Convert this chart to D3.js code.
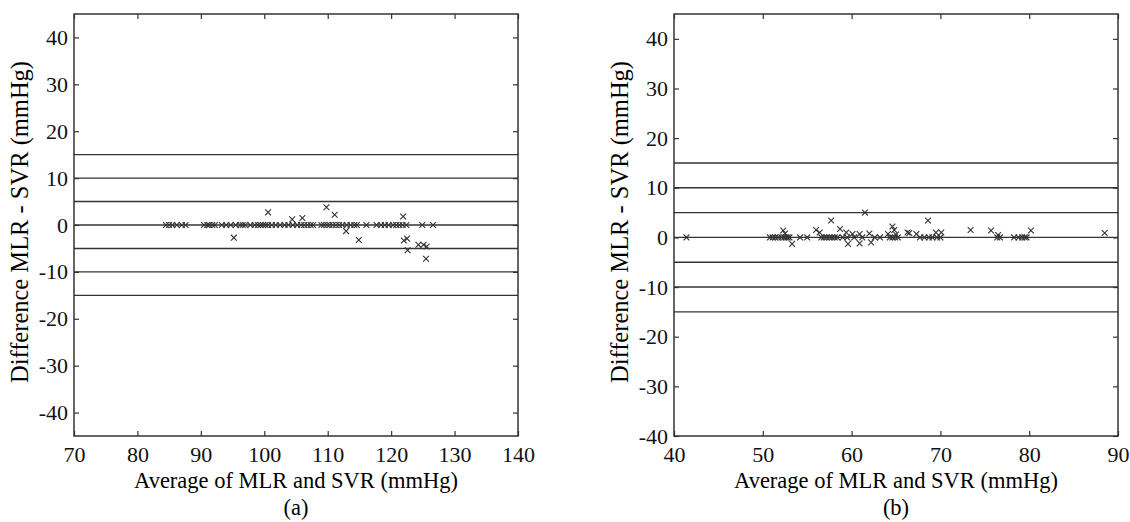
<!DOCTYPE html>
<html>
<head>
<meta charset="utf-8">
<script src="https://cdn.jsdelivr.net/npm/d3@7"></script>
<style>
  body { margin: 0; background: #fff; }
</style>
</head>
<body>
<div id="chart"></div>
<script>
// panel (a): points on the zero line, then points off it
var aZeroX = [84.5, 85, 85.5, 86.2, 87, 87.6, 90.5, 91, 91.3, 91.8, 92.2, 93.3, 94, 94.7, 95.5, 96.2, 96.6, 97,
  97.8, 98.5, 99, 99.4, 99.8, 100.2, 100.6, 101.2, 101.8, 102.5, 103.2, 103.8, 104.5, 105.2, 105.8, 106.3,
  106.8, 107.3, 107.7, 109, 109.4, 109.9, 110.3, 110.8, 111.3, 111.8, 112.3, 113, 113.6, 114.2, 114.6, 116.1,
  117.7, 118.4, 119, 119.6, 120.3, 120.8, 121.3, 121.8, 122.4, 124.9, 126.6]
var aOffX = [95.2, 100.6, 104.4, 106, 109.8, 111.1, 112.9, 114.9, 121.9, 122.5, 122, 122.6, 124.3, 125.1, 125.6, 125.5]
var aOffY = [-2.7, 2.7, 1.2, 1.5, 3.8, 2.2, -1.3, -3.2, 1.8, -2.9, -3.3, -5.4, -4.2, -4.2, -4.6, -7.2]

// panel (b)
var bZeroX = [41.4, 50.8, 51.1, 51.4, 51.7, 52.1, 52.4, 52.6, 52.8, 53.0, 54.2, 55.0, 56.6, 56.9, 57.2, 57.5,
  57.8, 58.1, 58.4, 59.0, 59.5, 60.3, 61.2, 62.6, 63.2, 64.3, 64.6, 64.9, 65.2, 67.7, 68.2, 68.7, 69.1, 69.6,
  70.0, 76.4, 76.7, 78.3, 78.8, 79.2, 79.5, 79.7]
var bOffX = [52.3, 52.5, 53.3, 56.0, 56.4, 57.7, 58.7, 59.4, 59.6, 60.1, 60.9, 60.9, 61.5, 62.0, 62.2, 64.1,
  64.6, 64.8, 65.0, 66.3, 66.5, 67.3, 68.6, 69.5, 70.1, 73.4, 75.7, 76.5, 80.2, 88.5]
var bOffY = [1.4, 0.8, -1.3, 1.5, 1.0, 3.4, 1.7, 1.0, -1.3, 0.7, 0.7, -1.2, 5.0, 0.8, -1.0, 0.7,
  2.2, 1.5, 0.6, 1.0, 0.9, 0.7, 3.4, 1.0, 1.0, 1.5, 1.4, 0.5, 1.4, 0.9]

var refLines = [15, 10, 5, 0, -5, -10, -15]
var aXTicks = [70, 80, 90, 100, 110, 120, 130, 140]
var aYTicks = [-40, -30, -20, -10, 0, 10, 20, 30, 40]
var bXTicks = [40, 50, 60, 70, 80, 90]
var bYTicks = [-40, -30, -20, -10, 0, 10, 20, 30, 40]

var xLabel = "Average of MLR and SVR (mmHg)"
var yLabel = "Difference MLR - SVR (mmHg)"

var FONT = "Liberation Serif"

var svg = d3.select("#chart").append("svg")
  .attr("width", 1130)
  .attr("height", 522)

function toPoints(xs, ys) {
  return xs.map(function(x, i) { return { x: x, y: ys ? ys[i] : 0 } })
}

function drawPanel(opt) {
  var x = d3.scaleLinear().domain(opt.xDomain).range([opt.left, opt.right])
  var y = d3.scaleLinear().domain(opt.yDomain).range([opt.bottom, opt.top])
  var g = svg.append("g")

  g.selectAll(".ref")
    .data(refLines)
    .enter().append("line")
    .attr("x1", opt.left).attr("x2", opt.right)
    .attr("y1", function(d) { return y(d) }).attr("y2", function(d) { return y(d) })
    .attr("stroke", "#333").attr("stroke-width", 1.4)

  var pts = toPoints(opt.zeroX).concat(toPoints(opt.offX, opt.offY))
  var s = 2.9
  g.selectAll(".pt")
    .data(pts)
    .enter().append("path")
    .attr("d", function(d) {
      var cx = x(d.x), cy = y(d.y)
      return "M" + (cx - s) + "," + (cy - s) + "L" + (cx + s) + "," + (cy + s) +
        "M" + (cx - s) + "," + (cy + s) + "L" + (cx + s) + "," + (cy - s)
    })
    .attr("stroke", "#333").attr("stroke-width", 1.1).attr("fill", "none")

  // MATLAB-style box with ticks pointing inwards
  function styleAxis(sel) {
    sel.attr("font-family", null).attr("font-size", null)
    sel.select(".domain").remove()
    sel.selectAll(".tick line").attr("stroke", "#333").attr("stroke-width", 1.2)
    sel.selectAll(".tick text")
      .style("font-family", FONT).style("font-size", "22px").attr("fill", "#111")
  }
  var fmt = function(d) { return String(d) }
  g.append("g").attr("transform", "translate(0," + opt.bottom + ")")
    .call(d3.axisBottom(x).tickValues(opt.xTicks).tickFormat(fmt).tickSizeInner(-5).tickPadding(10))
    .call(styleAxis)
  g.append("g").attr("transform", "translate(0," + opt.top + ")")
    .call(d3.axisTop(x).tickValues(opt.xTicks).tickSizeInner(-5).tickFormat(""))
    .call(styleAxis)
  g.append("g").attr("transform", "translate(" + opt.left + ",0)")
    .call(d3.axisLeft(y).tickValues(opt.yTicks).tickFormat(fmt).tickSizeInner(-5).tickPadding(6))
    .call(styleAxis)
  g.append("g").attr("transform", "translate(" + opt.right + ",0)")
    .call(d3.axisRight(y).tickValues(opt.yTicks).tickSizeInner(-5).tickFormat(""))
    .call(styleAxis)

  g.append("rect")
    .attr("x", opt.left).attr("y", opt.top)
    .attr("width", opt.right - opt.left).attr("height", opt.bottom - opt.top)
    .attr("fill", "none").attr("stroke", "#333").attr("stroke-width", 1.5)

  var cx = (opt.left + opt.right) / 2
  g.append("text")
    .attr("x", cx).attr("y", 488)
    .attr("text-anchor", "middle")
    .style("font-family", FONT).style("font-size", "22.5px")
    .text(xLabel)
  g.append("text")
    .attr("x", cx).attr("y", 515)
    .attr("text-anchor", "middle")
    .style("font-family", FONT).style("font-size", "22.5px")
    .text(opt.caption)
  g.append("text")
    .attr("transform", "translate(" + (opt.left - 46) + ",222) rotate(-90)")
    .attr("text-anchor", "middle")
    .style("font-family", FONT).style("font-size", "24.5px")
    .text(yLabel)
}

drawPanel({
  left: 74, right: 518, top: 14, bottom: 436,
  xDomain: [70, 140], yDomain: [-45, 45],
  xTicks: aXTicks, yTicks: aYTicks,
  zeroX: aZeroX, offX: aOffX, offY: aOffY,
  caption: "(a)"
})

drawPanel({
  left: 674, right: 1118, top: 14, bottom: 436,
  xDomain: [40, 90], yDomain: [-40, 45],
  xTicks: bXTicks, yTicks: bYTicks,
  zeroX: bZeroX, offX: bOffX, offY: bOffY,
  caption: "(b)"
})
</script>
</body>
</html>
